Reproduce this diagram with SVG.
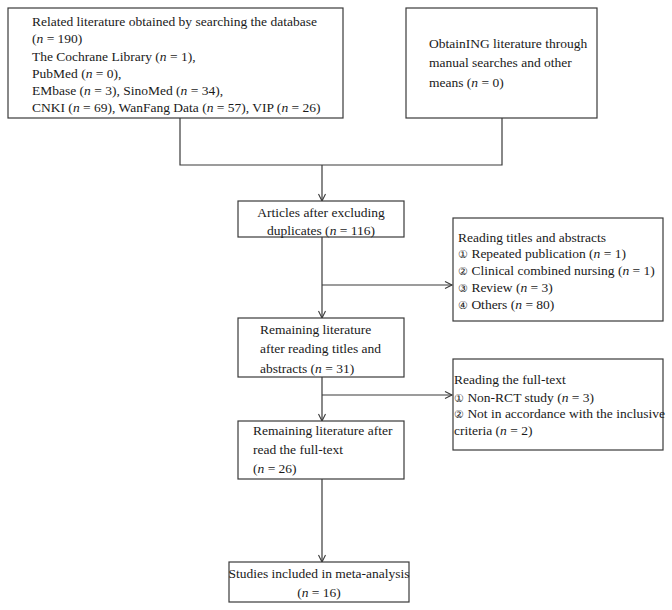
<svg xmlns="http://www.w3.org/2000/svg" width="672" height="610" viewBox="0 0 672 610">
<style>
.box{fill:#fff;stroke:#3a3a3a;stroke-width:1.2}
.t{font-family:"Liberation Serif","Times New Roman",serif;font-size:13.5px;fill:#1a1a1a}
.c{text-anchor:middle}
.n{font-size:10.5px}
.ln{stroke:#3a3a3a;stroke-width:1.2;fill:none}
</style>
<defs>
<marker id="arr" markerWidth="10" markerHeight="10" refX="8" refY="4" orient="auto" markerUnits="userSpaceOnUse">
<path d="M1,0.5 L8,4 L1,7.5" fill="none" stroke="#3a3a3a" stroke-width="1.1"/>
</marker>
</defs>
<rect width="672" height="610" fill="#fff"/>
<g id="connectors">
<path class="ln" d="M180,118 V165 H502 V118"/>
<path class="ln" d="M322,165 V201" marker-end="url(#arr)"/>
<path class="ln" d="M322,237 V318" marker-end="url(#arr)"/>
<path class="ln" d="M322,285 H452" marker-end="url(#arr)"/>
<path class="ln" d="M322,377 V421" marker-end="url(#arr)"/>
<path class="ln" d="M322,395 H452" marker-end="url(#arr)"/>
<path class="ln" d="M322,479 V562" marker-end="url(#arr)"/>
</g>
<g id="search">
<rect class="box" x="8" y="8" width="335" height="110"/>
<text class="t" x="32" y="26">Related literature obtained by searching the database</text>
<text class="t" x="32" y="43">(<tspan font-style="italic">n</tspan> = 190)</text>
<text class="t" x="32" y="61">The Cochrane Library (<tspan font-style="italic">n</tspan> = 1),</text>
<text class="t" x="32" y="78">PubMed (<tspan font-style="italic">n</tspan> = 0),</text>
<text class="t" x="32" y="95">EMbase (<tspan font-style="italic">n</tspan> = 3), SinoMed (<tspan font-style="italic">n</tspan> = 34),</text>
<text class="t" x="32" y="112">CNKI (<tspan font-style="italic">n</tspan> = 69), WanFang Data (<tspan font-style="italic">n</tspan> = 57), VIP (<tspan font-style="italic">n</tspan> = 26)</text>
</g>
<g id="manual">
<rect class="box" x="406" y="8" width="191" height="110"/>
<text class="t" x="429" y="48">ObtainING literature through</text>
<text class="t" x="429" y="67">manual searches and other</text>
<text class="t" x="429" y="87">means (<tspan font-style="italic">n</tspan> = 0)</text>
</g>
<g id="dedup">
<rect class="box" x="238" y="201" width="166" height="36"/>
<text class="t c" x="321" y="217">Articles after excluding</text>
<text class="t c" x="321" y="235">duplicates (<tspan font-style="italic">n</tspan> = 116)</text>
</g>
<g id="excl1">
<rect class="box" x="453" y="218" width="210" height="103"/>
<text class="t" x="458" y="242">Reading titles and abstracts</text>
<text class="t" x="458" y="258"><tspan class="n">①</tspan> Repeated publication (<tspan font-style="italic">n</tspan> = 1)</text>
<text class="t" x="458" y="275"><tspan class="n">②</tspan> Clinical combined nursing (<tspan font-style="italic">n</tspan> = 1)</text>
<text class="t" x="458" y="292"><tspan class="n">③</tspan> Review (<tspan font-style="italic">n</tspan> = 3)</text>
<text class="t" x="458" y="309"><tspan class="n">④</tspan> Others (<tspan font-style="italic">n</tspan> = 80)</text>
</g>
<g id="remain1">
<rect class="box" x="238" y="318" width="166" height="59"/>
<text class="t" x="260" y="334">Remaining literature</text>
<text class="t" x="260" y="353">after reading titles and</text>
<text class="t" x="260" y="373">abstracts (<tspan font-style="italic">n</tspan> = 31)</text>
</g>
<g id="excl2">
<rect class="box" x="453" y="359" width="210" height="91"/>
<text class="t" x="454" y="384">Reading the full-text</text>
<text class="t" x="454" y="402"><tspan class="n">①</tspan> Non-RCT study (<tspan font-style="italic">n</tspan> = 3)</text>
<text class="t" x="454" y="418"><tspan class="n">②</tspan> Not in accordance with the inclusive</text>
<text class="t" x="454" y="435">criteria (<tspan font-style="italic">n</tspan> = 2)</text>
</g>
<g id="remain2">
<rect class="box" x="238" y="421" width="166" height="58"/>
<text class="t" x="253" y="435">Remaining literature after</text>
<text class="t" x="253" y="454">read the full-text</text>
<text class="t" x="253" y="473">(<tspan font-style="italic">n</tspan> = 26)</text>
</g>
<g id="included">
<rect class="box" x="229" y="562" width="180" height="40"/>
<text class="t c" x="319" y="578">Studies included in meta-analysis</text>
<text class="t c" x="319" y="597">(<tspan font-style="italic">n</tspan> = 16)</text>
</g>
</svg>
